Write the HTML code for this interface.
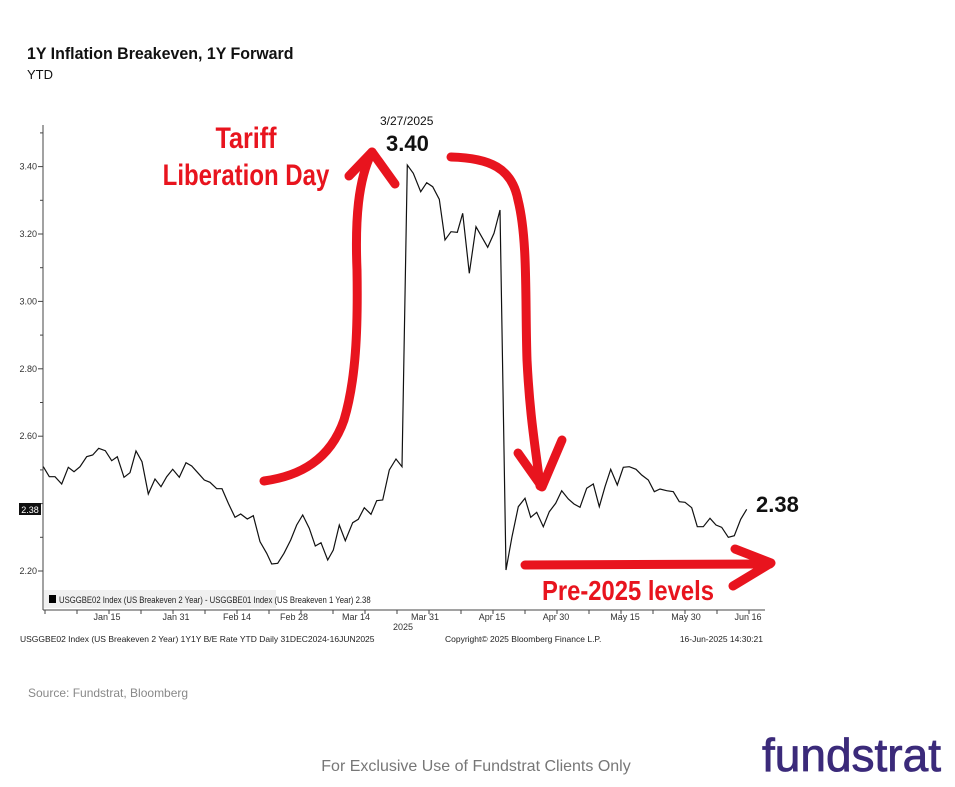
<!DOCTYPE html>
<html><head><meta charset="utf-8"><style>
body{margin:0;background:#fff;width:955px;height:787px;overflow:hidden;font-family:"Liberation Sans",sans-serif}
</style></head><body>
<svg width="955" height="787" xmlns="http://www.w3.org/2000/svg" style="position:absolute;left:0;top:0">
<text x="27" y="59" font-size="17" font-weight="bold" fill="#111" transform="translate(27 0) scale(0.94 1) translate(-27 0)">1Y Inflation Breakeven, 1Y Forward</text>
<text x="27" y="79" font-size="13" fill="#111">YTD</text>
<line x1="43" y1="125" x2="43" y2="610" stroke="#444" stroke-width="1"/>
<line x1="43" y1="610" x2="765" y2="610" stroke="#444" stroke-width="1"/>
<g id="yt" font-size="9" fill="#333" text-anchor="end"></g>
<g id="xt" font-size="9" fill="#333" text-anchor="middle"></g>
<rect x="44" y="590" width="232" height="18" fill="#f0f0f0"/>
<rect x="49" y="595" width="7" height="8" fill="#000"/>
<text x="59" y="603" font-size="9" fill="#222" transform="translate(59 0) scale(0.86 1) translate(-59 0)">USGGBE02 Index (US Breakeven 2 Year) - USGGBE01 Index (US Breakeven 1 Year) 2.38</text>
<text x="403" y="630" font-size="9" fill="#333" text-anchor="middle">2025</text>
<text x="20" y="642" font-size="8.5" fill="#222">USGGBE02 Index (US Breakeven 2 Year) 1Y1Y B/E Rate YTD  Daily 31DEC2024-16JUN2025</text>
<text x="445" y="642" font-size="8.5" fill="#222">Copyright© 2025 Bloomberg Finance L.P.</text>
<text x="763" y="642" font-size="8.5" fill="#222" text-anchor="end">16-Jun-2025 14:30:21</text>
<rect x="19" y="503" width="22" height="12" fill="#111"/>
<text x="30" y="513" font-size="9" fill="#fff" text-anchor="middle">2.38</text>
<polyline id="ln" fill="none" stroke="#111" stroke-width="1.2"/>
<g stroke="#e8141e" stroke-width="9" fill="none" stroke-linecap="round" stroke-linejoin="round">
<path d="M264 481 C300 476 330 460 344 420 C356 380 358 330 357 270 C355 220 358 180 372 152"/>
<path d="M349 176 L372 152 L395 184"/>
<path d="M451 157 C490 158 512 168 518 200 C528 240 525 300 527 360 C530 420 536 450 540 486"/>
<path d="M518 453 L542 487 L562 440"/>
<path d="M525 565 L770 564"/>
<path d="M735 549 L771 563 L733 586"/>
</g>
<g font-weight="bold" fill="#e8141e" text-anchor="middle" font-size="30">
<text x="246" y="148" transform="translate(246 0) scale(0.84 1) translate(-246 0)">Tariff</text>
<text x="246" y="185" transform="translate(246 0) scale(0.8 1) translate(-246 0)">Liberation Day</text>
<text x="628" y="600" font-size="28" transform="translate(628 0) scale(0.85 1) translate(-628 0)">Pre-2025 levels</text>
</g>
<text x="380" y="125" font-size="12" fill="#111">3/27/2025</text>
<text x="386" y="151" font-size="22" font-weight="bold" fill="#111">3.40</text>
<text x="756" y="512" font-size="22" font-weight="bold" fill="#111">2.38</text>
<text x="28" y="697" font-size="12" fill="#888">Source: Fundstrat, Bloomberg</text>
<text x="476" y="771" font-size="16" fill="#777" text-anchor="middle">For Exclusive Use of Fundstrat Clients Only</text>
<text x="941" y="771" font-size="46" fill="#3b2a7a" stroke="#3b2a7a" stroke-width="0.8" text-anchor="end">fundstrat</text>
</svg>
<script>
var a=[[130,1040],[148,1070],[165,1070],[185,1092],[205,1042],[222,1055],[240,1040],[260,1010],[278,1005],[296,985],[316,992],[335,1022],[352,1010],[372,1072],[390,1058],[408,993],[426,1025],[445,1122],[465,1077],[483,1100],[500,1070],[518,1048],[538,1072],[558,1028],[575,1038],[595,1060],[613,1080],[630,1087],[650,1106],[666,1106],[685,1150],[705,1192],[722,1182],[742,1197],[760,1187],[780,1265],[800,1300],[815,1332],[833,1330],[852,1300],[872,1260],[890,1215],[908,1185],[928,1225],[946,1278],[963,1268],[983,1320],[1000,1290],[1018,1215],[1036,1262],[1058,1208],[1075,1198],[1093,1163],[1113,1183],[1130,1142],[1148,1140],[1168,1050],[1188,1017],[1206,1040]];
var b=[[52,165],[70,190],[92,245],[110,218],[128,230],[148,268],[165,390],[183,365],[202,367],[218,310],[238,490],[258,350],[276,382],[293,412],[312,370],[330,300],[348,1380],[366,1280],[385,1190],[405,1165],[422,1222],[440,1207],[460,1250],[478,1205],[497,1180],[515,1142],[535,1167],[552,1182],[570,1192],[590,1135],[610,1122],[628,1190],[645,1130],[662,1078],[682,1125],[700,1072],[718,1070],[738,1078],[755,1095],[775,1110],[793,1145],[810,1137],[830,1142],[850,1145],[868,1175],[885,1177],[905,1193],[922,1250],[940,1250],[960,1225],[978,1245],[995,1252],[1015,1282],[1033,1277],[1052,1228],[1070,1198]];
var p=[];a.forEach(function(q){p.push((q[0]/3).toFixed(1)+","+(120+q[1]/3).toFixed(1))});
b.forEach(function(q){p.push((390+q[0]/3).toFixed(1)+","+(110+q[1]/3).toFixed(1))});
document.getElementById("ln").setAttribute("points",p.join(" "));
var yt=document.getElementById("yt"),s="";
for(var i=0;i<=13;i++){var v=2.2+i*0.1,y=571-(v-2.2)*337;var maj=i%2==0;
s+='<line x1="'+(maj?38:40)+'" y1="'+y+'" x2="43" y2="'+y+'" stroke="#444"/>';
if(maj&&i!=2)s+='<text x="37" y="'+(y+3)+'">'+v.toFixed(2)+'</text>';}
yt.innerHTML=s;
var xs=[["Jan 15",107],["Jan 31",176],["Feb 14",237],["Feb 28",294],["Mar 14",356],["Mar 31",425],["Apr 15",492],["Apr 30",556],["May 15",625],["May 30",686],["Jun 16",748]];
s="";xs.forEach(function(q){s+='<text x="'+q[1]+'" y="620">'+q[0]+'</text>';});
for(var x=45;x<765;x+=32)s+='<line x1="'+x+'" y1="610" x2="'+x+'" y2="614" stroke="#444"/>';
document.getElementById("xt").innerHTML=s;
</script>
</body></html>
